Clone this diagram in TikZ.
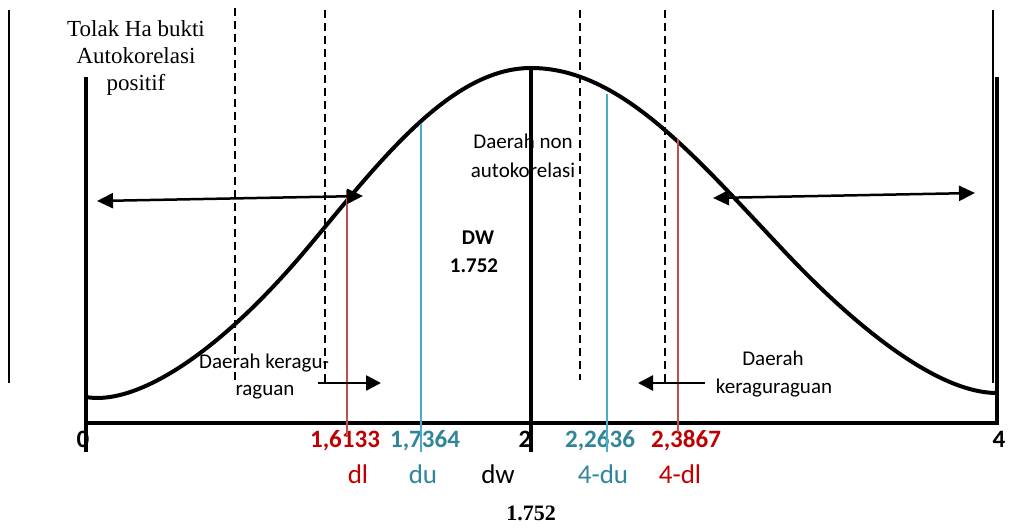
\documentclass[tikz,border=0pt]{standalone}
\usepackage{fontspec}
\setmainfont{Liberation Serif}
\newfontfamily\calib{Carlito}
\usetikzlibrary{arrows.meta}
\definecolor{numred}{RGB}{192,0,0}
\definecolor{numblue}{RGB}{49,133,155}
\definecolor{linered}{RGB}{192,80,77}
\definecolor{lineblue}{RGB}{75,172,198}
\tikzset{
  heavy/.style={line width=4pt},
  hair/.style={line width=1.5pt},
  dashline/.style={line width=2pt, dash pattern=on 8pt off 5pt},
  dblarrow/.style={line width=2.5pt, {Triangle[length=16pt,width=15pt]}-{Triangle[length=16pt,width=15pt]}},
  onearrow/.style={line width=2.5pt, -{Triangle[length=15pt,width=15pt]}},
  redline/.style={line width=1.7pt, draw=linered},
  blueline/.style={line width=1.7pt, draw=lineblue},
  serif/.style={inner sep=0pt, anchor=base, font=\fontsize{23}{27}\selectfont},
  serifb/.style={inner sep=0pt, anchor=base, font=\fontsize{22}{27}\selectfont\bfseries},
  region/.style={inner sep=0pt, anchor=base, font=\calib\fontsize{21}{25}\selectfont},
  regionb/.style={inner sep=0pt, anchor=base, font=\calib\bfseries\fontsize{21}{25}\selectfont},
  ticklab/.style={inner sep=0pt, anchor=base, font=\calib\bfseries\fontsize{25}{30}\selectfont},
  symlab/.style={inner sep=0pt, anchor=base, font=\calib\fontsize{27}{32}\selectfont},
}
\begin{document}
\begin{tikzpicture}[x=1pt,y=-1pt]
\useasboundingbox (0,0) rectangle (1012,532);
% texts
\node[serif] (tolak1) at (136,37) {Tolak Ha bukti};
\node[serif] (tolak2) at (136,64) {Autokorelasi};
\node[serif] (tolak3) at (136,91) {positif};
\node[region] (non1) at (523,149) {Daerah non};
\node[region] (non2) at (523,177) {autokorelasi};
\node[regionb] (dw1) at (478,244) {DW};
\node[regionb] (dw2) at (474,272) {1.752};
\node[region, anchor=base west] (ragu1) at (199,368) {Daerah keragu-};
\node[region] (ragu2) at (265,395) {raguan};
\node[region] (rr1) at (773,365) {Daerah};
\node[region] (rr2) at (774,393) {keraguraguan};
\node[ticklab] (t0) at (83,447) {0};
\node[ticklab, text=numred] (t1) at (345,447) {1,6133};
\node[ticklab, text=numblue] (t2) at (425,447) {1,7364};
\node[ticklab] (t3) at (525,447) {2};
\node[ticklab, text=numblue] (t4) at (600,447) {2,2636};
\node[ticklab, text=numred] (t5) at (686,447) {2,3867};
\node[ticklab] (t6) at (999,447) {4};
\node[symlab, text=numred] (s1) at (358,483) {dl};
\node[symlab, text=numblue] (s2) at (423,483) {du};
\node[symlab] (s3) at (498,483) {dw};
\node[symlab, text=numblue] (s4) at (603,483) {4-du};
\node[symlab, text=numred] (s5) at (680,483) {4-dl};
\node[serifb] (bot) at (531,520) {1.752};
% frame lines
\draw[hair] (9,10) -- (9,383);
\draw[hair] (993,10) -- (993,383);
\draw[heavy] (86,77) -- (86,452);
\draw[heavy] (997,77) -- (997,424);
\draw[heavy] (531,68) -- (531,452);
\draw[heavy] (84,423) -- (999,423);
% dashed lines
\draw[dashline] (235,8) -- (235,380);
\draw[dashline] (325,10) -- (325,383);
\draw[dashline] (580,10) -- (580,380);
\draw[dashline] (665,10) -- (665,385);
% curve
\draw[heavy, line join=round]
  (86,397) .. controls (130,405) and (210,365) .. (310,245)
  .. controls (380,161) and (451,68) .. (531,68)
  .. controls (621,68) and (695,156.6) .. (785,252)
  .. controls (855,326.2) and (937,393) .. (997,393);
% value lines
\draw[redline] (347,190) -- (347,437);
\draw[blueline] (421,124) -- (421,452);
\draw[blueline] (607,94) -- (607,452);
\draw[redline] (678,139) -- (678,432);
% arrows
\draw[dblarrow] (97,201) -- (363,196);
\draw[dblarrow] (713,198) -- (975,193);
\draw[onearrow] (318,383) -- (381,383);
\draw[onearrow] (705,383) -- (638,383);
\end{tikzpicture}
\end{document}
